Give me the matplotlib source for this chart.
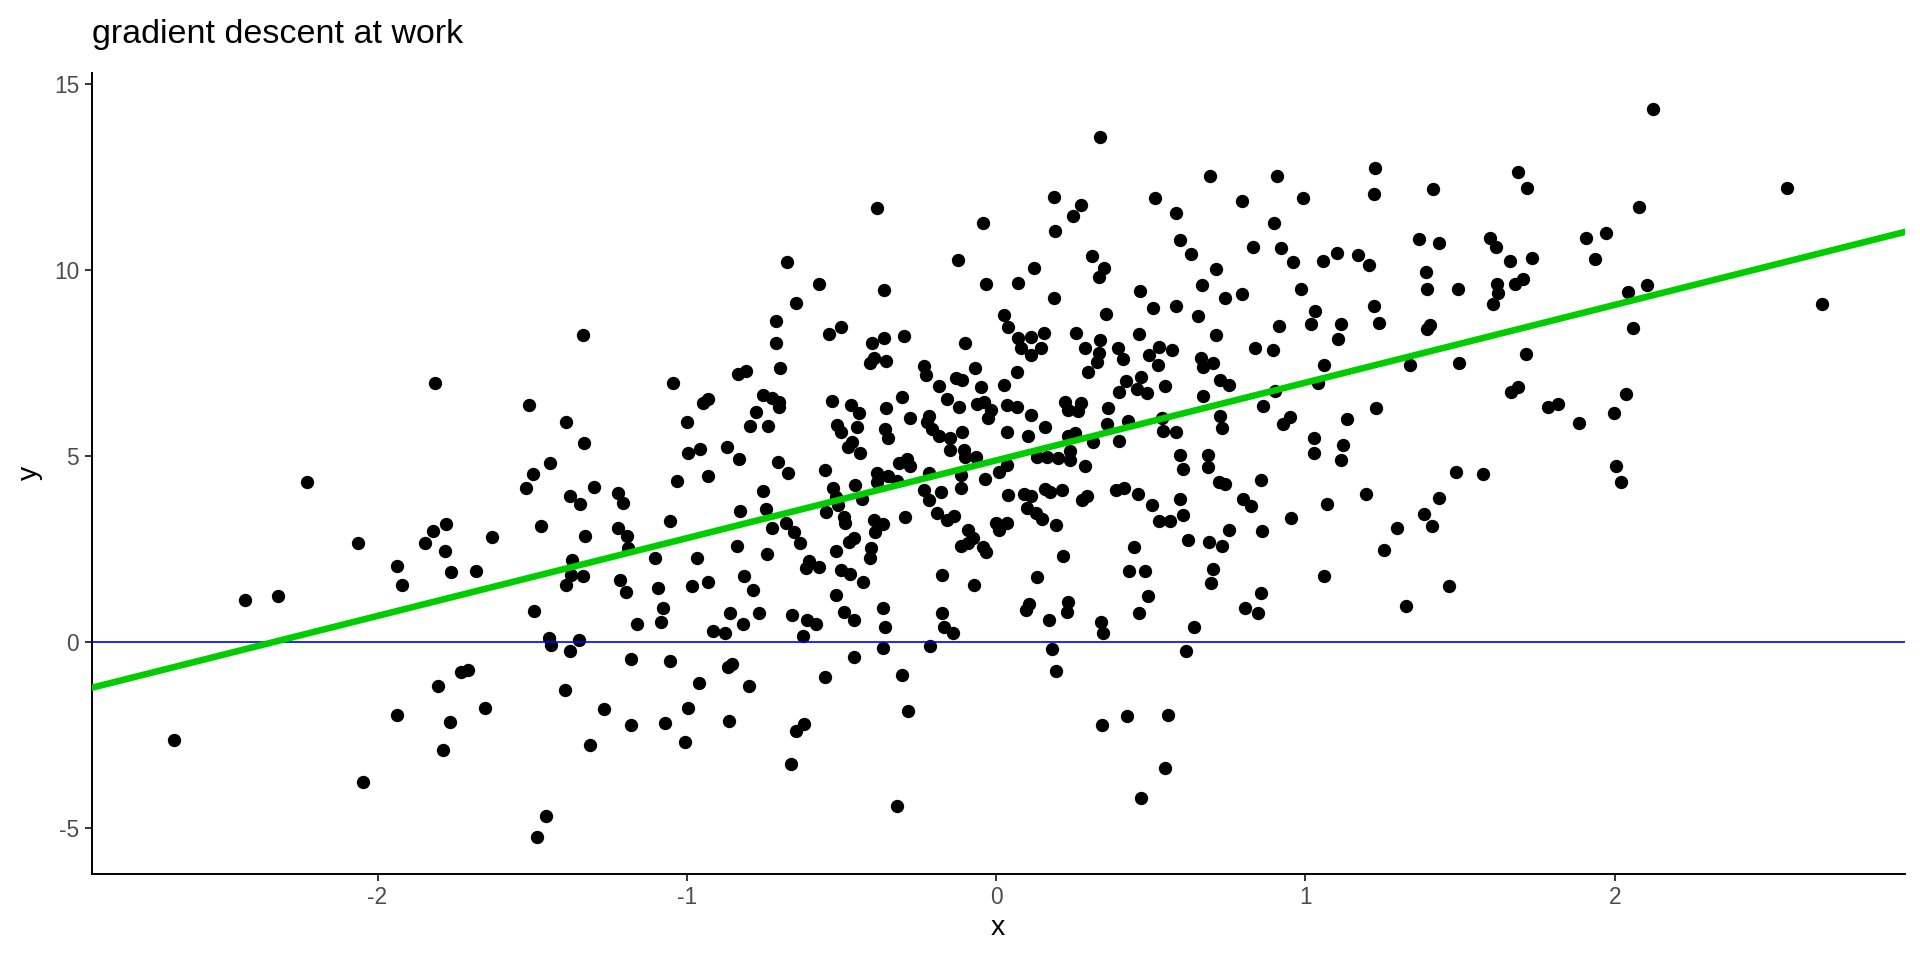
import numpy as np
import matplotlib.pyplot as plt

points_top = [
    (-1.335, 8.25), (-0.676, 10.22), (-0.385, 11.67), (-0.042, 11.26), (-0.124, 10.27),
    (-0.572, 9.62), (-0.362, 9.46), (-0.032, 9.62), (-0.647, 9.11), (-0.711, 8.63),
    (-0.501, 8.47), (-0.540, 8.28), (-0.297, 8.23), (-0.363, 8.18), (0.026, 8.80),
    (0.037, 8.47), (-0.711, 8.04), (-0.402, 8.04), (-0.101, 8.04),
    (0.336, 13.58), (0.692, 12.53), (0.908, 12.53), (1.225, 12.76), (1.222, 12.04),
    (1.413, 12.18), (0.188, 11.98), (0.275, 11.75), (0.249, 11.45), (0.191, 11.05),
    (0.514, 11.94), (0.795, 11.85), (0.993, 11.94), (0.582, 11.53), (0.899, 11.26),
    (0.595, 10.81), (0.630, 10.43), (0.831, 10.62), (0.921, 10.59), (0.960, 10.22),
    (1.057, 10.24), (1.103, 10.46), (1.170, 10.40), (1.206, 10.13), (1.368, 10.83),
    (1.432, 10.73), (1.390, 9.95), (1.393, 9.49), (1.494, 9.49), (0.310, 10.38),
    (0.349, 10.05), (0.333, 9.81), (0.122, 10.05), (0.071, 9.65), (0.188, 9.25),
    (0.711, 10.03), (0.666, 9.60), (0.466, 9.44), (0.740, 9.25), (0.795, 9.35),
    (0.986, 9.49), (0.508, 8.98), (0.582, 9.03), (0.356, 8.82), (0.653, 8.76),
    (1.031, 8.90), (1.018, 8.55), (1.115, 8.55), (1.222, 9.03), (1.238, 8.58),
    (1.403, 8.52), (1.393, 8.41), (0.915, 8.49), (0.259, 8.31), (0.155, 8.31),
    (0.462, 8.28), (0.711, 8.25), (1.106, 8.15), (0.071, 8.17), (0.112, 8.22),
    (0.336, 8.13),
    (2.124, 14.33), (1.688, 12.63), (1.717, 12.20), (2.557, 12.20), (2.079, 11.69),
    (1.597, 10.86), (1.617, 10.62), (1.908, 10.86), (1.972, 10.99), (1.662, 10.24),
    (1.733, 10.32), (1.937, 10.30), (1.620, 9.62), (1.623, 9.38), (1.607, 9.09),
    (1.677, 9.62), (1.704, 9.76), (2.043, 9.41), (2.105, 9.60), (2.671, 9.09),
    (2.059, 8.44),
]

points_left = [
    (-1.814, 6.96), (-1.510, 6.37), (-1.442, 4.81), (-1.497, 4.52), (-1.520, 4.14),
    (-2.228, 4.30), (-1.471, 3.12), (-1.778, 3.17), (-1.820, 2.98), (-1.846, 2.66),
    (-1.781, 2.45), (-1.629, 2.82), (-2.063, 2.66), (-1.937, 2.04), (-1.920, 1.53),
    (-1.762, 1.88), (-1.681, 1.91), (-2.428, 1.13), (-2.321, 1.24), (-1.494, 0.85),
]

points_mid_left = [
    (-0.396, 7.65), (-0.357, 7.56), (-0.408, 7.50), (-0.699, 7.37), (-0.833, 7.20),
    (-0.809, 7.29), (-1.044, 6.96), (-0.233, 7.44), (-0.226, 7.19), (-0.069, 7.37),
    (-0.130, 7.10), (-0.111, 7.04), (-0.184, 6.88), (-0.049, 6.85), (0.026, 6.92),
    (-0.159, 6.53), (-0.120, 6.32), (-0.062, 6.40), (-0.039, 6.45), (-0.015, 6.24),
    (-0.026, 6.04), (0.035, 6.38), (-0.304, 6.59), (-0.356, 6.29), (-0.530, 6.48),
    (-0.470, 6.38), (-0.443, 6.17), (-0.753, 6.65), (-0.726, 6.56), (-0.702, 6.47),
    (-0.701, 6.32), (-0.949, 6.42), (-0.931, 6.54), (-0.776, 6.18), (-0.795, 5.81),
    (-0.737, 5.81), (-0.999, 5.91), (-1.390, 5.91), (-1.332, 5.35), (-0.997, 5.08),
    (-0.957, 5.19), (-0.870, 5.24), (-0.831, 4.92), (-0.705, 4.84), (-0.672, 4.54),
    (-1.031, 4.33), (-0.931, 4.46), (-0.515, 5.84), (-0.503, 5.65), (-0.450, 5.79),
    (-0.359, 5.73), (-0.349, 5.48), (-0.278, 6.02), (-0.217, 6.07), (-0.222, 5.91),
    (-0.206, 5.73), (-0.184, 5.55), (-0.149, 5.50), (-0.149, 5.17), (-0.110, 5.65),
    (-0.103, 5.17), (-0.101, 4.99), (-0.066, 4.99), (0.035, 5.65), (-0.467, 5.38),
    (-0.480, 5.26), (-0.440, 5.08), (-0.314, 4.81), (-0.289, 4.93), (-0.278, 4.75),
    (-0.554, 4.62), (-0.386, 4.54), (-0.351, 4.48), (-0.386, 4.30), (-0.319, 4.34),
    (-0.456, 4.23), (-0.217, 4.54), (-0.114, 4.50), (-0.114, 4.14), (-0.036, 4.38),
    (0.010, 4.59), (0.035, 4.77), (0.037, 3.96), (-0.233, 4.09), (-0.217, 3.83),
    (-0.177, 4.05), (-0.526, 4.14), (-0.518, 3.91), (-0.511, 3.69), (-0.432, 3.85),
    (-0.753, 4.07), (-1.300, 4.17), (-1.377, 3.93), (-1.345, 3.71), (-1.222, 4.01),
    (-1.206, 3.74), (-0.828, 3.53), (-0.744, 3.58), (-0.550, 3.51), (-1.054, 3.25),
    (-0.493, 3.36), (-0.489, 3.20), (-0.294, 3.36), (-0.192, 3.47), (-0.159, 3.29),
    (-0.136, 3.40), (-0.001, 3.20), (0.010, 3.02), (-0.394, 3.29), (-0.367, 3.17),
    (-0.392, 2.97), (-0.723, 3.06), (-0.680, 3.20), (-0.655, 2.96), (-0.634, 2.66),
    (-1.224, 3.06), (-1.193, 2.86), (-1.329, 2.86), (-1.190, 2.53), (-0.837, 2.58),
    (-1.103, 2.26), (-0.967, 2.26), (-0.740, 2.37), (-0.517, 2.45), (-0.475, 2.70),
    (-0.459, 2.80), (-0.405, 2.53), (-0.407, 2.26), (-0.092, 3.02), (-0.076, 2.81),
    (-0.112, 2.59), (-0.090, 2.66), (-0.041, 2.57), (-0.033, 2.42), (-1.371, 2.21),
    (-1.373, 1.81), (-1.335, 1.79), (-1.390, 1.54), (-0.605, 2.19), (-0.615, 2.01),
    (-0.572, 2.02), (-0.502, 1.94), (-0.472, 1.83), (-0.430, 1.61), (-0.815, 1.78),
    (-0.786, 1.40), (-1.217, 1.67), (-1.195, 1.34), (-1.094, 1.45), (-0.983, 1.51),
    (-0.931, 1.61), (-0.175, 1.81), (-0.071, 1.54), (-0.517, 1.26), (-1.077, 0.91),
    (-0.365, 0.91), (-0.860, 0.78), (-0.766, 0.78), (-0.660, 0.73), (-0.491, 0.82),
    (-0.175, 0.78),
]

points_mid_right = [
    (0.080, 7.90), (0.112, 7.72), (0.145, 7.90), (0.287, 7.90), (0.333, 7.77),
    (0.326, 7.54), (0.394, 7.90), (0.411, 7.62), (0.495, 7.72), (0.527, 7.95),
    (0.568, 7.86), (0.525, 7.45), (0.663, 7.63), (0.670, 7.41), (0.702, 7.50),
    (0.837, 7.92), (0.896, 7.86), (1.060, 7.45), (1.339, 7.45), (1.498, 7.50),
    (0.067, 7.26), (0.297, 7.26), (0.420, 7.02), (0.468, 7.12), (0.454, 6.80),
    (0.487, 6.69), (0.546, 6.88), (0.398, 6.72), (0.724, 7.05), (0.753, 6.92),
    (0.669, 6.61), (0.902, 6.76), (1.041, 6.96), (0.863, 6.34), (1.229, 6.29),
    (0.069, 6.33), (0.222, 6.47), (0.233, 6.24), (0.274, 6.42), (0.266, 6.22),
    (0.362, 6.31), (0.113, 6.11), (0.158, 5.79), (0.103, 5.55), (0.231, 5.55),
    (0.254, 5.62), (0.357, 5.86), (0.425, 5.95), (0.535, 6.02), (0.538, 5.69),
    (0.581, 5.65), (0.314, 5.38), (0.398, 5.40), (0.724, 6.09), (0.730, 5.75),
    (0.926, 5.86), (0.951, 6.05), (1.135, 5.99), (1.028, 5.48), (1.028, 5.08),
    (1.122, 5.30), (1.115, 4.89), (0.239, 5.14), (0.239, 4.90), (0.199, 4.95),
    (0.164, 4.97), (0.132, 4.97), (0.288, 4.73), (0.595, 5.03), (0.605, 4.65),
    (0.685, 5.03), (0.684, 4.72), (1.487, 4.57), (0.857, 4.35), (0.721, 4.30),
    (0.740, 4.25), (0.091, 3.98), (0.114, 3.94), (0.158, 4.12), (0.175, 4.05),
    (0.212, 4.09), (0.277, 3.83), (0.293, 3.93), (0.388, 4.09), (0.414, 4.16),
    (0.459, 3.98), (0.504, 3.68), (0.595, 3.85), (0.605, 3.41), (0.527, 3.25),
    (0.563, 3.25), (0.101, 3.60), (0.128, 3.47), (0.150, 3.31), (0.035, 3.20),
    (0.194, 3.15), (0.799, 3.85), (0.824, 3.66), (1.070, 3.71), (1.196, 3.98),
    (1.432, 3.87), (1.384, 3.44), (1.410, 3.12), (1.296, 3.06), (0.954, 3.33),
    (0.753, 3.01), (0.860, 2.98), (0.621, 2.74), (0.689, 2.69), (0.731, 2.58),
    (0.446, 2.55), (0.217, 2.31), (1.254, 2.47), (0.430, 1.91), (0.482, 1.91),
    (0.702, 1.96), (0.695, 1.59), (0.133, 1.75), (1.060, 1.77), (1.465, 1.51),
    (0.857, 1.32), (0.491, 1.24), (1.326, 0.97), (0.107, 1.02), (0.096, 0.87),
    (0.233, 1.08), (0.229, 0.82), (0.805, 0.91), (0.847, 0.78), (0.462, 0.78),
    (1.714, 7.74), (1.666, 6.74), (1.686, 6.87), (1.785, 6.32), (1.817, 6.40),
    (1.885, 5.89), (1.998, 6.16), (2.037, 6.67), (1.575, 4.52), (2.004, 4.73),
    (2.021, 4.30),
]

points_bottom = [
    (-1.446, 0.11), (-1.440, -0.07), (-1.731, -0.81), (-1.709, -0.74), (-1.804, -1.17),
    (-1.653, -1.77), (-1.937, -1.95), (-1.765, -2.15), (-1.788, -2.90), (-2.658, -2.63),
    (-2.047, -3.76), (-1.456, -4.68), (-1.484, -5.24),
    (-1.348, 0.05), (-1.377, -0.23), (-1.161, 0.48), (-1.083, 0.54), (-0.915, 0.30),
    (-0.876, 0.24), (-0.818, 0.48), (-0.610, 0.60), (-0.583, 0.48), (-0.624, 0.16),
    (-0.459, 0.60), (-0.359, 0.40), (-0.365, -0.16), (-0.170, 0.40), (-0.139, 0.24),
    (-0.213, -0.10), (-1.180, -0.46), (-1.054, -0.51), (-0.866, -0.66), (-0.855, -0.59),
    (-0.459, -0.40), (-1.393, -1.29), (-0.960, -1.10), (-0.799, -1.17), (-0.553, -0.94),
    (-0.304, -0.89), (-1.267, -1.80), (-0.996, -1.77), (-1.180, -2.23), (-1.070, -2.18),
    (-0.863, -2.12), (-0.647, -2.37), (-0.621, -2.20), (-0.285, -1.85), (-1.313, -2.77),
    (-1.006, -2.69), (-0.663, -3.28), (-0.320, -4.41),
    (0.171, 0.60), (0.339, 0.55), (0.345, 0.24), (0.640, 0.40), (0.181, -0.19),
    (0.194, -0.78), (0.614, -0.22), (0.343, -2.23), (0.424, -1.99), (0.556, -1.96),
    (0.546, -3.39), (0.469, -4.19),
]

# fitted line after gradient descent
fit_intercept = 4.89
fit_slope = 2.09

x_ticks = [-2, -1, 0, 1, 2]
y_ticks = [-5, 0, 5, 10, 15]

all_points = points_top + points_left + points_mid_left + points_mid_right + points_bottom
x = np.array([p[0] for p in all_points])
y = np.array([p[1] for p in all_points])

plt.rcParams['font.family'] = ['Liberation Sans', 'DejaVu Sans']

fig = plt.figure(figsize=(19.2, 9.6), dpi=100)
ax = fig.add_axes([0.0477, 0.0899, 0.9443, 0.8343])

ax.scatter(x, y, s=92, color='black', linewidths=0, zorder=2)
ax.axhline(0, color='blue', lw=1.2, zorder=3)
ax.axline((0, fit_intercept), slope=fit_slope, color='#00CD00', lw=4.7, zorder=4)

# ggplot-style 5% expansion
xr = x.max() - x.min()
yr = y.max() - y.min()
ax.set_xlim(x.min() - 0.05 * xr, x.max() + 0.05 * xr)
ax.set_ylim(y.min() - 0.05 * yr, y.max() + 0.05 * yr)

ax.set_xticks(x_ticks)
ax.set_yticks(y_ticks)
ax.set_xticklabels([str(t) for t in x_ticks])
ax.set_yticklabels([str(t) for t in y_ticks])

for side in ['top', 'right']:
    ax.spines[side].set_visible(False)
for side in ['left', 'bottom']:
    ax.spines[side].set_linewidth(1.4)
    ax.spines[side].set_color('black')

ax.tick_params(length=5, width=1.4, color='#333333', labelsize=16.4,
               labelcolor='#4D4D4D', pad=4)
ax.set_xlabel('x', fontsize=20.5, labelpad=4)
ax.set_ylabel('y', fontsize=20.5, labelpad=8)

fig.text(0.0477, 1 - 34 / 960, 'gradient descent at work', fontsize=24.5,
         ha='left', va='center')

fig.savefig('out.png', dpi=100)
